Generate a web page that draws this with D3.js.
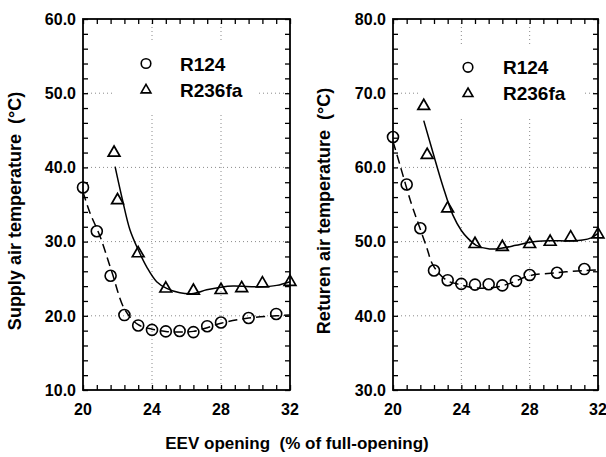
<!DOCTYPE html>
<html><head><meta charset="utf-8">
<script src="https://cdn.jsdelivr.net/npm/d3@7"></script>
<style>body{margin:0;background:#fff}svg{display:block}text{font-family:"Liberation Sans",Arial,sans-serif;font-weight:bold;fill:#000;white-space:pre}</style>
</head><body>
<script>
// ---- data ----
const r124X = [20,20.8,21.6,22.4,23.2,24,24.8,25.6,26.4,27.2,28,29.6,31.2];
const supplyR124 = [37.3,31.4,25.4,20.1,18.7,18.1,17.9,17.95,17.8,18.6,19.1,19.7,20.25];
const returnR124 = [64.1,57.7,51.8,46.1,44.8,44.3,44.2,44.25,44.1,44.7,45.5,45.8,46.3];
const r236X = [21.8,22.0,23.2,24.8,26.4,28,29.2,30.4,32];
const supplyR236 = [42.1,35.7,28.55,23.8,23.5,23.6,23.85,24.5,24.7];
const returnR236 = [68.4,61.8,54.6,49.8,49.4,49.8,50.1,50.7,51.1];
// fitted curves
const fitSupplyR124X = [20,20.4,20.99,21.66,22.43,23.2,24,24.8,25.6,26.4,27.2,28,29.6,31.2,32];
const fitSupplyR124Y = [36.7,33.9,30.7,26.0,20.8,18.8,18.2,17.9,17.8,17.9,18.4,19.0,19.7,20.0,20.1];
const fitSupplyR236X = [21.86,22.3,22.72,23.2,23.69,24.27,24.85,25.62,26.4,27.17,28,28.7,30.26,31.23,32];
const fitSupplyR236Y = [40.1,35.5,31.6,28.9,26.6,24.6,23.7,23.1,23.0,23.5,23.85,24.0,23.9,24.1,24.6];
const fitReturnR124X = [20,20.41,21.09,21.47,21.96,22.35,23.13,24,24.68,25.55,26.33,27.1,27.98,29.53,31.18,32];
const fitReturnR124Y = [63.5,60.3,55.0,52.5,49.3,46.8,44.8,44.15,43.8,43.75,44.0,44.6,45.4,45.8,46.1,46.2];
const fitReturnR236X = [21.8,22.35,22.93,23.5,24.0,24.4,24.87,25.65,26.33,27.2,28,29.1,30.3,31.1,31.6,32];
const fitReturnR236Y = [66.3,61.9,57.4,53.6,51.5,50.4,49.5,49.0,49.1,49.5,49.9,50.1,50.1,50.2,50.5,51.1];
const xMajorTicks = [20,24,28,32];
const supplyTicks = [10,20,30,40,50,60];
const returnTicks = [30,40,50,60,70,80];
const legendLabels = ["R124","R236fa"];
const yTitles = ["Supply air temperature  (\u00B0C)","Returen air temperature  (\u00B0C)"];
const xTitle = "EEV opening  (% of full-opening)";

const W=606,H=457;
const svg=d3.select("body").append("svg").attr("width",W).attr("height",H);

const panels=[
 {x0:83,x1:290,dom:[10,60],ticks:supplyTicks,c:[r124X,supplyR124],t:[r236X,supplyR236],
  fc:[fitSupplyR124X,fitSupplyR124Y],ft:[fitSupplyR236X,fitSupplyR236Y],
  leg:{x:146,y1:63.5,y2:89,tx:180,b1:71,b2:96.7,box:[112,40,258,113]},title:yTitles[0],tX:21},
 {x0:393,x1:598,dom:[30,80],ticks:returnTicks,c:[r124X,returnR124],t:[r236X,returnR236],
  fc:[fitReturnR124X,fitReturnR124Y],ft:[fitReturnR236X,fitReturnR236Y],
  leg:{x:468,y1:67.3,y2:92.7,tx:503,b1:74.3,b2:100,box:[420,44,583,117]},title:yTitles[1],tX:330}
];
const Y0=19,Y1=390;
const tri=d3.symbol().type(d3.symbolTriangle);

panels.forEach(p=>{
  const x=d3.scaleLinear().domain([20,32]).range([p.x0,p.x1]);
  const y=d3.scaleLinear().domain(p.dom).range([Y1,Y0]);
  const g=svg.append("g");
  // grid
  g.selectAll(".gx").data(xMajorTicks.slice(1,-1)).join("line")
   .attr("x1",d=>x(d)).attr("x2",d=>x(d)).attr("y1",Y0).attr("y2",Y1)
   .attr("stroke","#8a8a8a").attr("stroke-width",1).attr("stroke-dasharray","1,3");
  g.selectAll(".gy").data(p.ticks.slice(1,-1)).join("line")
   .attr("y1",d=>y(d)).attr("y2",d=>y(d)).attr("x1",p.x0).attr("x2",p.x1)
   .attr("stroke","#8a8a8a").attr("stroke-width",1).attr("stroke-dasharray","1,3");
  // legend box (white)
  const b=p.leg.box;
  g.append("rect").attr("x",b[0]).attr("y",b[1]).attr("width",b[2]-b[0]).attr("height",b[3]-b[1]).attr("fill","#fff");
  // axes with inward ticks
  const minorX=d3.range(20,32.001,0.8);
  const minorY=d3.range(p.dom[0],p.dom[1]+0.001,2);
  const axB=d3.axisBottom(x).tickValues(minorX).tickSize(-5).tickFormat("");
  const axT=d3.axisTop(x).tickValues(minorX).tickSize(-5).tickFormat("");
  const axL=d3.axisLeft(y).tickValues(minorY).tickSize(-5).tickFormat("");
  const axR=d3.axisRight(y).tickValues(minorY).tickSize(-5).tickFormat("");
  [[axB,`translate(0,${Y1})`],[axT,`translate(0,${Y0})`],[axL,`translate(${p.x0},0)`],[axR,`translate(${p.x1},0)`]].forEach(([a,t])=>{
    const ag=g.append("g").attr("transform",t).call(a);
    ag.select(".domain").remove();
    ag.selectAll("line").attr("stroke","#000").attr("stroke-width",1.3);
  });
  g.append("rect").attr("x",p.x0).attr("y",Y0).attr("width",p.x1-p.x0).attr("height",Y1-Y0)
   .attr("fill","none").attr("stroke","#000").attr("stroke-width",1.8);
  // tick labels
  g.selectAll(".yl").data(p.ticks).join("text").attr("x",p.x0-7).attr("y",d=>y(d)).attr("dy","0.36em")
   .attr("text-anchor","end").attr("font-size",16).text(d=>d.toFixed(1));
  g.selectAll(".xl").data(xMajorTicks).join("text").attr("x",d=>x(d)).attr("y",415)
   .attr("text-anchor","middle").attr("font-size",16).text(d=>d);
  // fit lines
  const line=d3.line().x(d=>x(d[0])).y(d=>y(d[1])).curve(d3.curveCatmullRom.alpha(0.5));
  g.append("path").datum(d3.zip(p.fc[0],p.fc[1])).attr("d",line).attr("fill","none")
   .attr("stroke","#000").attr("stroke-width",1.5).attr("stroke-dasharray","9,5");
  g.append("path").datum(d3.zip(p.ft[0],p.ft[1])).attr("d",line).attr("fill","none")
   .attr("stroke","#000").attr("stroke-width",1.5);
  // markers
  g.selectAll(".c").data(d3.zip(p.c[0],p.c[1])).join("circle").attr("cx",d=>x(d[0])).attr("cy",d=>y(d[1]))
   .attr("r",5.5).attr("fill","none").attr("stroke","#000").attr("stroke-width",1.6);
  g.selectAll(".t").data(d3.zip(p.t[0],p.t[1])).join("path").attr("d",tri.size(60)())
   .attr("transform",d=>`translate(${x(d[0])},${y(d[1])+1})`).attr("fill","none").attr("stroke","#000").attr("stroke-width",1.7);
  // legend
  const L=p.leg;
  g.append("circle").attr("cx",L.x).attr("cy",L.y1).attr("r",4.8).attr("fill","none").attr("stroke","#000").attr("stroke-width",1.6);
  g.append("path").attr("d",tri.size(42)()).attr("transform",`translate(${L.x},${L.y2+1})`).attr("fill","none").attr("stroke","#000").attr("stroke-width",1.6);
  g.append("text").attr("x",L.tx).attr("y",L.b1).attr("font-size",19).text(legendLabels[0]);
  g.append("text").attr("x",L.tx).attr("y",L.b2).attr("font-size",19).text(legendLabels[1]);
  // y title
  g.append("text").attr("transform",`translate(${p.tX},211) rotate(-90)`).attr("text-anchor","middle")
   .attr("font-size",18).text(p.title);
});
svg.append("text").attr("x",297).attr("y",449).attr("text-anchor","middle").attr("font-size",17).text(xTitle);
</script>
</body></html>
